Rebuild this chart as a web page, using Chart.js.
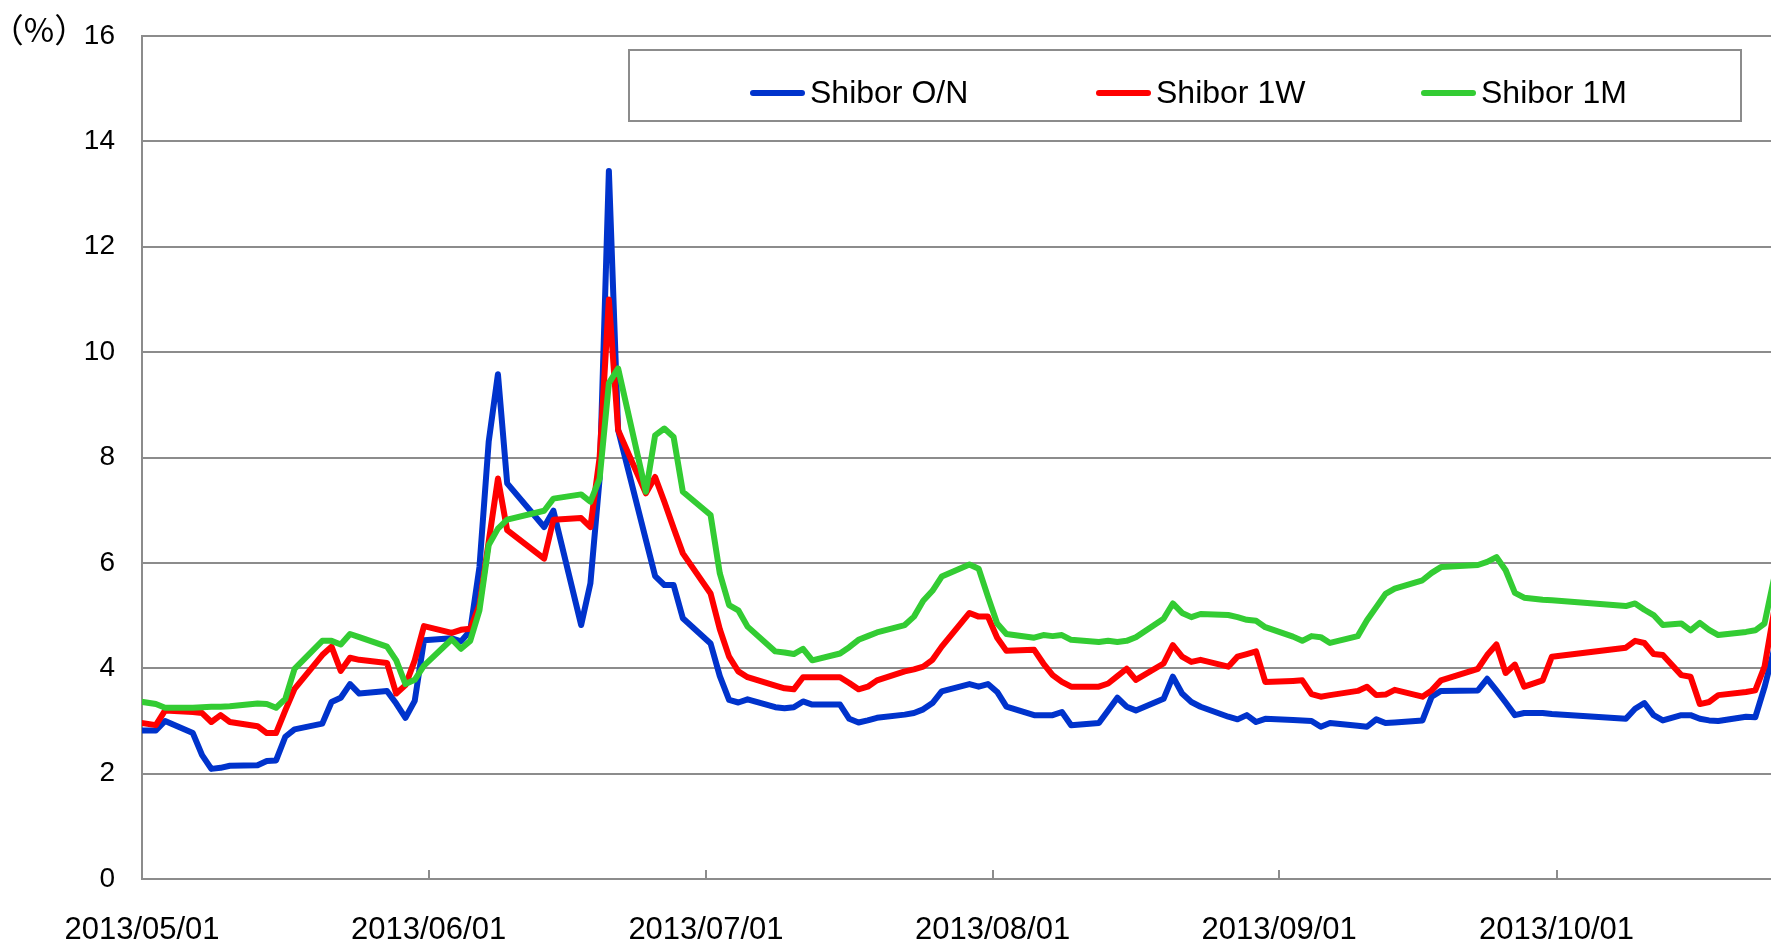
<!DOCTYPE html>
<html>
<head>
<meta charset="utf-8">
<title>Shibor</title>
<script src="https://cdn.jsdelivr.net/npm/chart.js@4.4.0/dist/chart.umd.min.js"></script>
<style>
    html, body { margin: 0; padding: 0; background: #fff; }
    canvas { display: block; }
</style>
</head>
<body>
<canvas id="shiborChart" width="1771" height="941"></canvas>
<script>
// business days (China), values in %
const dates = [
    '2013/04/28',
    '2013/05/02', '2013/05/03', '2013/05/06', '2013/05/07', '2013/05/08', '2013/05/09', '2013/05/10',
    '2013/05/13', '2013/05/14', '2013/05/15', '2013/05/16', '2013/05/17', '2013/05/20', '2013/05/21',
    '2013/05/22', '2013/05/23', '2013/05/24', '2013/05/27', '2013/05/28', '2013/05/29', '2013/05/30', '2013/05/31',
    '2013/06/03', '2013/06/04', '2013/06/05', '2013/06/06', '2013/06/07', '2013/06/08', '2013/06/09',
    '2013/06/13', '2013/06/14', '2013/06/17', '2013/06/18', '2013/06/19', '2013/06/20', '2013/06/21',
    '2013/06/24', '2013/06/25', '2013/06/26', '2013/06/27', '2013/06/28',
    '2013/07/01', '2013/07/02', '2013/07/03', '2013/07/04', '2013/07/05', '2013/07/08', '2013/07/09',
    '2013/07/10', '2013/07/11', '2013/07/12', '2013/07/15', '2013/07/16', '2013/07/17', '2013/07/18',
    '2013/07/19', '2013/07/22', '2013/07/23', '2013/07/24', '2013/07/25', '2013/07/26', '2013/07/29',
    '2013/07/30', '2013/07/31',
    '2013/08/01', '2013/08/02', '2013/08/05', '2013/08/06', '2013/08/07', '2013/08/08', '2013/08/09',
    '2013/08/12', '2013/08/13', '2013/08/14', '2013/08/15', '2013/08/16', '2013/08/19', '2013/08/20',
    '2013/08/21', '2013/08/22', '2013/08/23', '2013/08/26', '2013/08/27', '2013/08/28', '2013/08/29', '2013/08/30',
    '2013/09/02', '2013/09/03', '2013/09/04', '2013/09/05', '2013/09/06', '2013/09/09', '2013/09/10',
    '2013/09/11', '2013/09/12', '2013/09/13', '2013/09/16', '2013/09/17', '2013/09/18', '2013/09/22',
    '2013/09/23', '2013/09/24', '2013/09/25', '2013/09/26', '2013/09/27', '2013/09/29', '2013/09/30',
    '2013/10/08', '2013/10/09', '2013/10/10', '2013/10/11', '2013/10/12', '2013/10/14', '2013/10/15',
    '2013/10/16', '2013/10/17', '2013/10/18', '2013/10/21', '2013/10/22', '2013/10/23', '2013/10/24'
];

const shiborON = [
    2.82,
    2.82, 3.00, 2.77, 2.35, 2.09, 2.11, 2.15,
    2.16, 2.24, 2.25, 2.70, 2.84, 2.95, 3.36,
    3.44, 3.70, 3.52, 3.57, 3.33, 3.06, 3.38, 4.53,
    4.57, 4.51, 4.71, 5.92, 8.30, 9.58, 7.51,
    6.68, 6.99, 4.82, 5.61, 7.60, 13.44, 8.52,
    6.44, 5.75, 5.58, 5.58, 4.95,
    4.47, 3.85, 3.40, 3.35, 3.41, 3.26, 3.24,
    3.26, 3.37, 3.31, 3.31, 3.04, 2.97, 3.01,
    3.06, 3.12, 3.15, 3.22, 3.34, 3.56, 3.70,
    3.65, 3.70,
    3.55, 3.27, 3.11, 3.11, 3.11, 3.17, 2.92,
    2.96, 3.20, 3.44, 3.27, 3.20, 3.42, 3.84,
    3.52, 3.36, 3.27, 3.08, 3.03, 3.11, 2.98, 3.04,
    3.02, 3.01, 3.00, 2.89, 2.96, 2.91, 2.89,
    3.03, 2.96, 2.97, 3.01, 3.46, 3.57, 3.58,
    3.80, 3.58, 3.35, 3.11, 3.15, 3.15, 3.13,
    3.04, 3.23, 3.34, 3.11, 3.01, 3.11, 3.11,
    3.04, 3.01, 3.00, 3.08, 3.07, 3.64, 4.33
];

const shibor1W = [
    3.03,
    2.92, 3.20, 3.17, 3.15, 2.98, 3.11, 2.98,
    2.90, 2.77, 2.77, 3.20, 3.61, 4.25, 4.41,
    3.95, 4.20, 4.16, 4.10, 3.52, 3.68, 4.15, 4.80,
    4.67, 4.73, 4.75, 5.20, 6.40, 7.60, 6.62,
    6.08, 6.82, 6.85, 6.68, 8.00, 11.00, 8.52,
    7.32, 7.63, 7.16, 6.66, 6.18,
    5.42, 4.74, 4.22, 3.94, 3.83, 3.67, 3.62,
    3.60, 3.83, 3.83, 3.83, 3.72, 3.60, 3.65,
    3.77, 3.94, 3.98, 4.03, 4.16, 4.41, 5.05,
    4.98, 4.98,
    4.58, 4.33, 4.35, 4.09, 3.87, 3.74, 3.65,
    3.65, 3.71, 3.85, 3.99, 3.78, 4.09, 4.44,
    4.22, 4.12, 4.16, 4.03, 4.22, 4.27, 4.32, 3.74,
    3.76, 3.77, 3.51, 3.46, 3.49, 3.57, 3.65,
    3.49, 3.50, 3.59, 3.46, 3.58, 3.77, 3.99,
    4.25, 4.45, 3.91, 4.07, 3.65, 3.77, 4.22,
    4.39, 4.52, 4.48, 4.27, 4.25, 3.87, 3.84,
    3.32, 3.36, 3.49, 3.55, 3.58, 4.03, 5.05
];

const shibor1M = [
    3.43,
    3.32, 3.25, 3.25, 3.26, 3.27, 3.27, 3.28,
    3.33, 3.32, 3.25, 3.42, 3.99, 4.52, 4.52,
    4.45, 4.65, 4.59, 4.41, 4.15, 3.70, 3.78, 4.05,
    4.55, 4.37, 4.52, 5.10, 6.34, 6.65, 6.82,
    6.99, 7.22, 7.30, 7.16, 7.60, 9.41, 9.69,
    7.35, 8.42, 8.55, 8.39, 7.35,
    6.91, 5.80, 5.20, 5.10, 4.79, 4.32, 4.30,
    4.27, 4.37, 4.15, 4.28, 4.40, 4.54, 4.61,
    4.68, 4.82, 4.98, 5.28, 5.47, 5.74, 5.97,
    5.89, 5.36,
    4.85, 4.65, 4.58, 4.63, 4.61, 4.63, 4.54,
    4.50, 4.52, 4.50, 4.52, 4.59, 4.94, 5.23,
    5.05, 4.97, 5.03, 5.01, 4.97, 4.92, 4.90, 4.78,
    4.60, 4.52, 4.61, 4.59, 4.48, 4.61, 4.91,
    5.16, 5.41, 5.51, 5.67, 5.81, 5.92, 5.96,
    6.02, 6.11, 5.86, 5.43, 5.34, 5.30, 5.29,
    5.18, 5.23, 5.11, 5.01, 4.82, 4.85, 4.72,
    4.86, 4.73, 4.63, 4.69, 4.72, 4.85, 5.68
];

const monthTicks = ['2013/05/01', '2013/06/01', '2013/07/01', '2013/08/01', '2013/09/01', '2013/10/01'];
const seriesNames = ['Shibor O/N', 'Shibor 1W', 'Shibor 1M'];
const seriesColors = ['#0033cc', '#ff0000', '#33cc33'];

const origin = Date.UTC(2013, 4, 1);
function dayOffset(str) {
    const [y, m, d] = str.split('/').map(Number);
    return (Date.UTC(y, m - 1, d) - origin) / 86400000;
}
// each day's point sits in the middle of its day slot
const toPoints = values => dates.map((d, i) => ({ x: dayOffset(d) + 0.5, y: values[i] }));
const tickPos = monthTicks.map(dayOffset);

const gridGray = '#8c8c8c';
const labelFont = '"Liberation Sans", Arial, sans-serif';

// small inward tick marks on the date axis
const dateTicks = {
    id: 'dateTicks',
    beforeDatasetsDraw(chart) {
        const { ctx, chartArea, scales } = chart;
        ctx.save();
        ctx.strokeStyle = gridGray;
        ctx.lineWidth = 2;
        tickPos.forEach(v => {
            const x = Math.round(scales.x.getPixelForValue(v));
            ctx.beginPath();
            ctx.moveTo(x, chartArea.bottom);
            ctx.lineTo(x, chartArea.bottom - 9);
            ctx.stroke();
        });
        ctx.restore();
    }
};

// boxed legend inside the plot + unit label
const boxLegend = {
    id: 'boxLegend',
    afterDraw(chart) {
        const ctx = chart.ctx;
        const box = { left: 629, top: 50, right: 1741, bottom: 121 };
        const itemX = [750, 1096, 1421];
        ctx.save();
        ctx.fillStyle = '#fff';
        ctx.fillRect(box.left, box.top, box.right - box.left, box.bottom - box.top);
        ctx.strokeStyle = gridGray;
        ctx.lineWidth = 2;
        ctx.strokeRect(box.left, box.top, box.right - box.left, box.bottom - box.top);

        ctx.font = '32px ' + labelFont;
        const y = 93;
        seriesNames.forEach((name, i) => {
            const x = itemX[i];
            ctx.strokeStyle = seriesColors[i];
            ctx.lineWidth = 6;
            ctx.lineCap = 'round';
            ctx.beginPath();
            ctx.moveTo(x + 3, y);
            ctx.lineTo(x + 52, y);
            ctx.stroke();
            ctx.fillStyle = '#000';
            ctx.textAlign = 'left';
            ctx.textBaseline = 'middle';
            ctx.fillText(name, x + 60, y + 1);
        });

        ctx.font = '33px "Noto Sans CJK JP", sans-serif';
        ctx.textAlign = 'center';
        ctx.fillText('（%）', 39, 29);
        ctx.restore();
    }
};

new Chart(document.getElementById('shiborChart').getContext('2d'), {
    type: 'line',
    data: {
        datasets: [shiborON, shibor1W, shibor1M].map((values, i) => ({
            label: seriesNames[i],
            data: toPoints(values),
            borderColor: seriesColors[i],
            backgroundColor: seriesColors[i],
            borderWidth: 6,
            borderJoinStyle: 'round',
            borderCapStyle: 'round',
            pointRadius: 0,
            tension: 0,
            fill: false,
            order: 2 - i
        }))
    },
    options: {
        responsive: false,
        animation: false,
        layout: { padding: { top: 36, right: 0, left: 0, bottom: 0 } },
        plugins: {
            legend: { display: false },
            tooltip: { enabled: false }
        },
        scales: {
            x: {
                type: 'linear',
                min: 0,
                max: 176.2,
                afterBuildTicks: axis => { axis.ticks = tickPos.map(v => ({ value: v })); },
                afterFit: axis => { axis.height = 62; },
                grid: { display: false, drawTicks: false },
                border: { display: true, color: gridGray, width: 2 },
                ticks: {
                    autoSkip: false,
                    maxRotation: 0,
                    padding: 33,
                    color: '#000',
                    font: { family: labelFont, size: 31 },
                    callback: v => monthTicks[tickPos.indexOf(v)]
                }
            },
            y: {
                min: 0,
                max: 16,
                afterFit: axis => {
                    axis.width = 142;
                    axis.paddingTop = 0;
                    axis.paddingBottom = 0;
                },
                grid: { color: gridGray, lineWidth: 2, drawTicks: false },
                border: { display: true, color: gridGray, width: 2 },
                ticks: {
                    stepSize: 2,
                    padding: 27,
                    color: '#000',
                    font: { family: labelFont, size: 28 }
                }
            }
        }
    },
    plugins: [dateTicks, boxLegend]
});
</script>
</body>
</html>
